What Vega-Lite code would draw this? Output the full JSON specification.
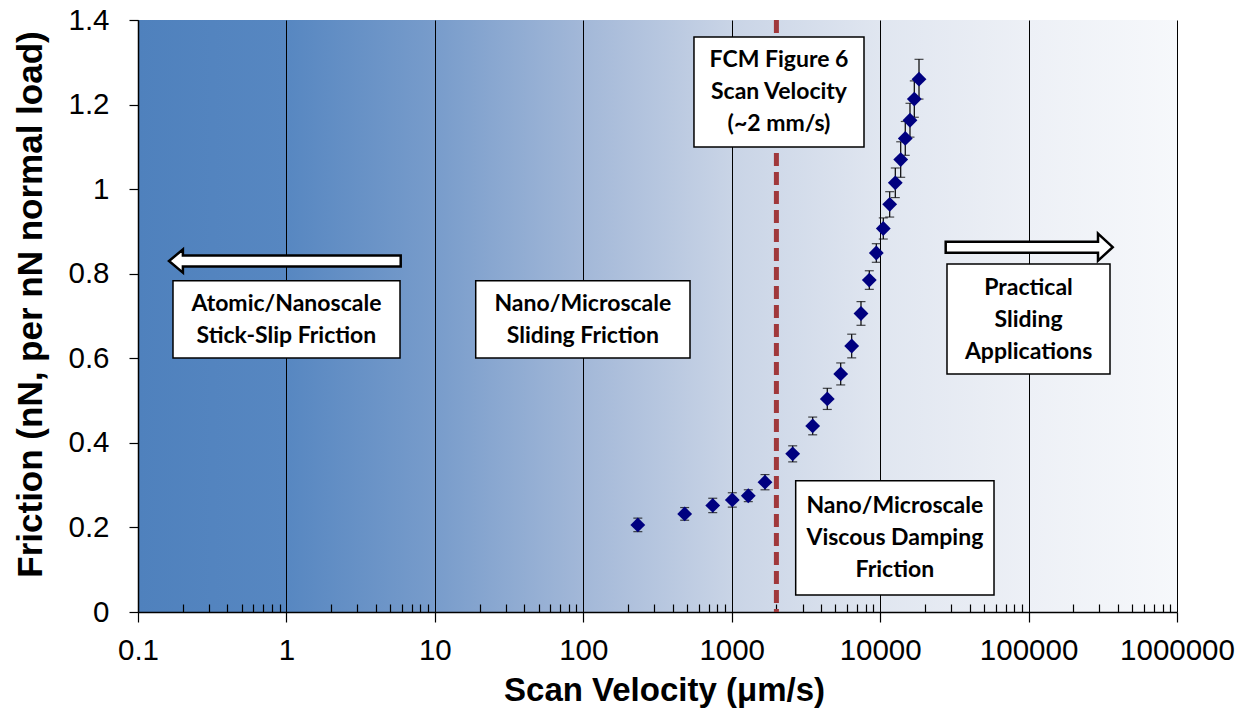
{
  "$schema": "https://vega.github.io/schema/vega-lite/v6.json",
  "autosize": "none",
  "padding": {"left": 138, "top": 20, "right": 78, "bottom": 109},
  "width": 1039,
  "height": 592,
  "background": "white",
  "view": {
    "stroke": null,
    "fill": {
      "gradient": "linear", "x1": 0, "y1": 0, "x2": 1, "y2": 0,
      "stops": [
        {"offset": 0, "color": "#4F81BD"},
        {"offset": 0.143, "color": "#5787C1"},
        {"offset": 0.286, "color": "#789CCB"},
        {"offset": 0.429, "color": "#A3B8D8"},
        {"offset": 0.571, "color": "#C9D4E6"},
        {"offset": 0.714, "color": "#E0E6F0"},
        {"offset": 0.857, "color": "#EDF0F6"},
        {"offset": 1, "color": "#F6F8FB"}
      ]
    }
  },
  "config": {
    "axis": {
      "labelFont": "Liberation Sans",
      "labelFontSize": 29.5,
      "labelColor": "black",
      "titleFont": "Liberation Sans",
      "titleFontWeight": "bold",
      "titleColor": "black",
      "domainColor": "black",
      "domainWidth": 1.5,
      "tickColor": "black",
      "tickWidth": 1.2
    }
  },
  "datasets": {
    "friction": [
      {"v": 233, "f": 0.206, "e": 0.016},
      {"v": 482, "f": 0.232, "e": 0.015},
      {"v": 745, "f": 0.252, "e": 0.017},
      {"v": 1009, "f": 0.265, "e": 0.017},
      {"v": 1293, "f": 0.275, "e": 0.014},
      {"v": 1676, "f": 0.307, "e": 0.018},
      {"v": 2575, "f": 0.374, "e": 0.019},
      {"v": 3512, "f": 0.440, "e": 0.021},
      {"v": 4404, "f": 0.504, "e": 0.025},
      {"v": 5424, "f": 0.563, "e": 0.026},
      {"v": 6432, "f": 0.629, "e": 0.028},
      {"v": 7430, "f": 0.706, "e": 0.028},
      {"v": 8452, "f": 0.785, "e": 0.022},
      {"v": 9422, "f": 0.849, "e": 0.022},
      {"v": 10500, "f": 0.907, "e": 0.025},
      {"v": 11597, "f": 0.964, "e": 0.030},
      {"v": 12651, "f": 1.015, "e": 0.035},
      {"v": 13757, "f": 1.070, "e": 0.042},
      {"v": 14767, "f": 1.120, "e": 0.040},
      {"v": 15887, "f": 1.163, "e": 0.040},
      {"v": 16987, "f": 1.213, "e": 0.043},
      {"v": 18273, "f": 1.260, "e": 0.047}
    ],
    "notes": [
      {"label": "Atomic/Nanoscale\nStick-Slip Friction", "x1": 0.1721, "x2": 5.824, "y1": 0.6007, "y2": 0.7835, "xc": 1.0, "yc": 0.7288},
      {"label": "Nano/Microscale\nSliding Friction", "x1": 18.85, "x2": 523.6, "y1": 0.6007, "y2": 0.7835, "xc": 99.3, "yc": 0.7288},
      {"label": "FCM Figure 6\nScan Velocity\n(~2 mm/s)", "x1": 556.9, "x2": 7785, "y1": 1.0997, "y2": 1.3598, "xc": 2082, "yc": 1.3054},
      {"label": "Nano/Microscale\nViscous Damping\nFriction", "x1": 2698, "x2": 58500, "y1": 0.0402, "y2": 0.3105, "xc": 12564, "yc": 0.2510},
      {"label": "Practical\nSliding\nApplications", "x1": 28210, "x2": 353700, "y1": 0.5628, "y2": 0.8230, "xc": 100000, "yc": 0.7662}
    ]
  },
  "layer": [
    {
      "data": {"values": [{}]},
      "mark": {"type": "rule", "color": "#A0383B", "strokeWidth": 5, "strokeDash": [13, 6]},
      "encoding": {
        "x": {"datum": 2000, "type": "quantitative", "title": "Scan Velocity (μm/s)", "scale": {"type": "log", "domain": [0.1, 1000000], "nice": false}}
      }
    },
    {
      "data": {"name": "friction"},
      "mark": {"type": "errorbar", "ticks": {"size": 9, "color": "black", "thickness": 1.2}, "rule": {"color": "black", "strokeWidth": 1.2}},
      "encoding": {
        "x": {"field": "v", "type": "quantitative", "title": "Scan Velocity (μm/s)", "scale": {"type": "log", "domain": [0.1, 1000000], "nice": false}},
        "y": {"field": "f", "type": "quantitative", "title": "Friction (nN, per nN normal load)", "scale": {"domain": [0, 1.4], "nice": false}},
        "yError": {"field": "e"}
      }
    },
    {
      "data": {"name": "friction"},
      "mark": {"type": "point", "shape": "diamond", "filled": true, "color": "#000080", "size": 220, "opacity": 1},
      "encoding": {
        "x": {
          "field": "v", "type": "quantitative", "title": "Scan Velocity (μm/s)",
          "scale": {"type": "log", "domain": [0.1, 1000000], "nice": false},
          "axis": {
            "values": [0.1, 0.2, 0.3, 0.4, 0.5, 0.6, 0.7, 0.8, 0.9, 1, 2, 3, 4, 5, 6, 7, 8, 9, 10, 20, 30, 40, 50, 60, 70, 80, 90, 100, 200, 300, 400, 500, 600, 700, 800, 900, 1000, 2000, 3000, 4000, 5000, 6000, 7000, 8000, 9000, 10000, 20000, 30000, 40000, 50000, 60000, 70000, 80000, 90000, 100000, 200000, 300000, 400000, 500000, 600000, 700000, 800000, 900000, 1000000],
            "grid": true, "gridColor": "black", "gridWidth": 1,
            "gridOpacity": {"condition": {"test": "indexof([0.1,1,10,100,1000,10000,100000,1000000], datum.value) >= 0", "value": 1}, "value": 0},
            "tickSize": {"condition": {"test": "indexof([0.1,1,10,100,1000,10000,100000,1000000], datum.value) >= 0", "value": 10}, "value": -8},
            "labelPadding": 14,
            "labelExpr": "indexof([0.1,1,10,100,1000,10000,100000,1000000], datum.value) >= 0 ? (datum.value < 1 ? '0.1' : format(datum.value, 'd')) : ''",
            "labelFlush": false, "labelOverlap": false,
            "titleFontSize": 33, "titlePadding": 10, "titleX": 526
          }
        },
        "y": {
          "field": "f", "type": "quantitative", "title": "Friction (nN, per nN normal load)",
          "scale": {"domain": [0, 1.4], "nice": false},
          "axis": {
            "values": [0, 0.2, 0.4, 0.6, 0.8, 1, 1.2, 1.4],
            "format": "~g", "grid": false, "tickSize": 9, "labelPadding": 20,
            "labelFlush": false, "labelOverlap": false,
            "titleFontSize": 35, "titlePadding": 19, "titleY": 284
          }
        }
      }
    },
    {
      "data": {"name": "notes"},
      "mark": {"type": "rect", "fill": "white", "stroke": "black", "strokeWidth": 1.5},
      "encoding": {
        "x": {"field": "x1", "type": "quantitative", "title": "Scan Velocity (μm/s)", "scale": {"type": "log", "domain": [0.1, 1000000], "nice": false}},
        "x2": {"field": "x2"},
        "y": {"field": "y1", "type": "quantitative", "title": "Friction (nN, per nN normal load)", "scale": {"domain": [0, 1.4], "nice": false}},
        "y2": {"field": "y2"}
      }
    },
    {
      "data": {"name": "notes"},
      "mark": {"type": "text", "font": "Lato", "fontWeight": "bold", "fontSize": 23, "lineHeight": 32, "lineBreak": "\n", "align": "center", "baseline": "middle", "color": "black"},
      "encoding": {
        "x": {"field": "xc", "type": "quantitative", "title": "Scan Velocity (μm/s)", "scale": {"type": "log", "domain": [0.1, 1000000], "nice": false}},
        "y": {"field": "yc", "type": "quantitative", "title": "Friction (nN, per nN normal load)", "scale": {"domain": [0, 1.4], "nice": false}},
        "text": {"field": "label"}
      }
    },
    {
      "data": {"values": [{}]},
      "mark": {"type": "point", "shape": "M -1,0 L -0.88,-0.1 L -0.88,-0.047 L 1,-0.047 L 1,0.047 L -0.88,0.047 L -0.88,0.1 Z", "size": 53685, "filled": true, "fill": "white", "stroke": "black", "strokeWidth": 2.5, "opacity": 1, "fillOpacity": 1, "strokeOpacity": 1},
      "encoding": {
        "x": {"datum": 0.9759, "type": "quantitative", "title": "Scan Velocity (μm/s)", "scale": {"type": "log", "domain": [0.1, 1000000], "nice": false}},
        "y": {"datum": 0.830, "type": "quantitative", "title": "Friction (nN, per nN normal load)", "scale": {"domain": [0, 1.4], "nice": false}}
      }
    },
    {
      "data": {"values": [{}]},
      "mark": {"type": "point", "shape": "M 1,0 L 0.824,-0.162 L 0.824,-0.066 L -1,-0.066 L -1,0.066 L 0.824,0.066 L 0.824,0.162 Z", "size": 27889, "filled": true, "fill": "white", "stroke": "black", "strokeWidth": 2.5, "opacity": 1, "fillOpacity": 1, "strokeOpacity": 1},
      "encoding": {
        "x": {"datum": 100970, "type": "quantitative", "title": "Scan Velocity (μm/s)", "scale": {"type": "log", "domain": [0.1, 1000000], "nice": false}},
        "y": {"datum": 0.8627, "type": "quantitative", "title": "Friction (nN, per nN normal load)", "scale": {"domain": [0, 1.4], "nice": false}}
      }
    }
  ]
}
